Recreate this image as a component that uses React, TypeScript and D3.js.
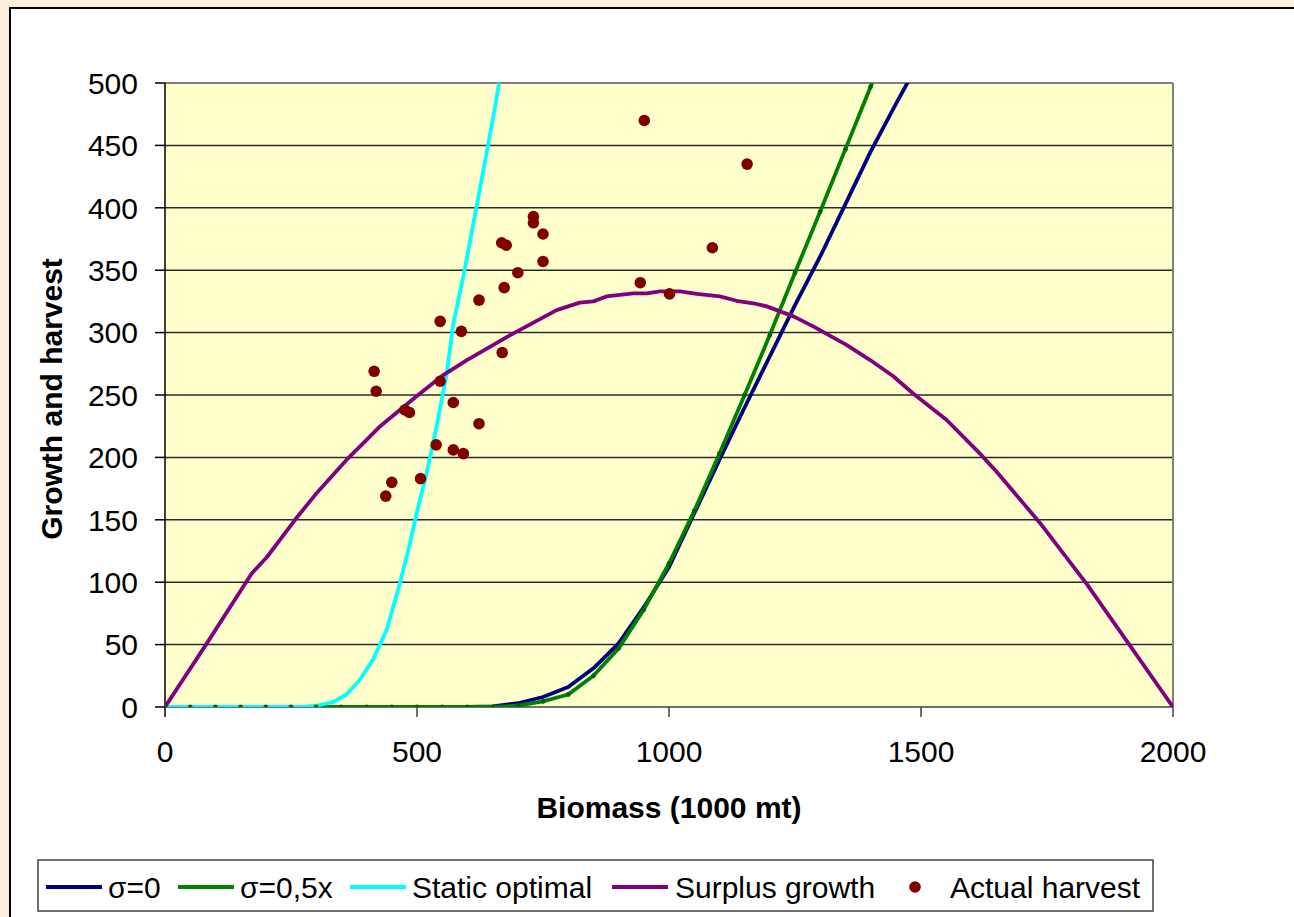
import React from 'react';
import * as d3 from 'd3';

// Biomass grid shared by the two model curves (1000 mt)
const gridX = [0, 50, 100, 150, 200, 250, 300, 350, 400, 450, 500, 550, 600, 650, 700, 750, 800, 850, 900, 950, 1000, 1050, 1100, 1150, 1200, 1250, 1300, 1350, 1400, 1450, 1500];
const sigma0 = [0, 0, 0, 0, 0, 0, 0, 0, 0, 0, 0, 0, 0, 0.5, 3, 8, 16, 31, 51, 80, 112, 155, 198, 240, 281, 322, 361, 403, 445, 483, 520];
const sigma05 = [0, 0, 0, 0, 0, 0, 0, 0, 0, 0, 0, 0, 0, 0, 1, 4.5, 10, 25, 47, 78, 115, 157, 203, 250, 298, 348, 397, 447, 497, 547, 597];

const staticX = [0, 50, 100, 150, 200, 250, 275, 300, 334, 360, 387, 413, 440, 466, 486, 499, 519, 539, 559, 572, 592, 628, 650, 663, 680];
const staticY = [0, 0, 0, 0, 0, 0, 0, 1, 4, 10, 22, 38, 62, 99, 131, 155, 187, 225, 267, 307, 345, 422, 470, 500, 540];

const surplusX = [0, 83, 172, 202, 258, 298, 360, 400, 427, 493, 552, 599, 685, 777, 823, 850, 876, 929, 956, 982, 1022, 1055, 1101, 1134, 1167, 1194, 1247, 1286, 1353, 1399, 1445, 1485, 1551, 1617, 1650, 1736, 1829, 1915, 2000];
const surplusY = [0, 51, 107, 120, 150, 170, 198, 214, 225, 247, 266, 278, 298, 318, 324, 325, 329, 331.5, 331.5, 333, 333, 331, 329, 325.5, 323.5, 321, 313, 305, 290, 278, 265, 251, 230, 203, 188.5, 147.5, 98.4, 49, 0];

const harvestX = [415, 419, 476, 485, 450, 438, 507, 538, 572, 592, 623, 572, 546, 546, 588, 669, 623, 673, 700, 668, 677, 731, 731, 750, 750, 943, 1001, 1086, 951, 1155];
const harvestY = [269, 253, 238, 236, 180, 169, 183, 210, 206, 203, 227, 244, 261, 309, 301, 284, 326, 336, 348, 372, 370, 393, 388, 379, 357, 340, 331, 368, 470, 435];

const xTicks = [0, 500, 1000, 1500, 2000];
const yTicks = [0, 50, 100, 150, 200, 250, 300, 350, 400, 450, 500];

const FONT = '"Liberation Sans", Arial, sans-serif';

const App = () => {
  const W = 1294;
  const H = 917;
  const plot = { left: 165, right: 1173, top: 83, bottom: 707 };

  const x = d3.scaleLinear().domain([0, 2000]).range([plot.left, plot.right]);
  const y = d3.scaleLinear().domain([0, 500]).range([plot.bottom, plot.top]);

  const line = d3.line<[number, number]>()
    .x(d => x(d[0]))
    .y(d => y(d[1]));

  const zip = (xs: number[], ys: number[]) => xs.map((v, i) => [v, ys[i]] as [number, number]);

  const navyPts = zip(gridX, sigma0);
  const greenPts = zip(gridX, sigma05);
  const cyanPts = zip(staticX, staticY);
  const purplePts = zip(surplusX, surplusY);
  const dots = zip(harvestX, harvestY);

  // legend layout
  const legY = 887;
  const legend = [
    { type: 'line', color: '#000080', x0: 46, x1: 102, tx: 108, label: 'σ=0' },
    { type: 'line', color: '#008000', x0: 178, x1: 234, tx: 240, label: 'σ=0,5x' },
    { type: 'line', color: '#00FFFF', x0: 350, x1: 406, tx: 412, label: 'Static optimal' },
    { type: 'line', color: '#800080', x0: 612, x1: 668, tx: 675, label: 'Surplus growth' },
    { type: 'dot', color: '#800000', x0: 915, x1: 915, tx: 950, label: 'Actual harvest' },
  ];

  return (
    <div style={{ position: 'absolute', left: 0, top: 0 }}>
      <svg width={W} height={H} style={{ display: 'block' }} fontFamily={FONT}>
        <defs>
          <clipPath id="plotClip">
            <rect x={plot.left} y={plot.top} width={plot.right - plot.left} height={plot.bottom - plot.top} />
          </clipPath>
        </defs>

        {/* page background + chart panel */}
        <rect x={0} y={0} width={W} height={H} fill="#FCF0DA" />
        <rect x={10} y={8} width={W + 20} height={H + 20} fill="#FFFFFF" stroke="#000" strokeWidth={2} />

        {/* plot area */}
        <rect x={plot.left} y={plot.top} width={plot.right - plot.left} height={plot.bottom - plot.top} fill="#FFFFCC" />

        {/* gridlines */}
        {yTicks.filter(t => t > 0 && t < 500).map(t => (
          <line key={'g' + t} x1={plot.left} x2={plot.right} y1={y(t)} y2={y(t)} stroke="#2a2a2a" strokeWidth={1.5} />
        ))}

        {/* plot border top/right */}
        <line x1={plot.left} x2={plot.right} y1={plot.top} y2={plot.top} stroke="#808080" strokeWidth={2} />
        <line x1={plot.right} x2={plot.right} y1={plot.top} y2={plot.bottom} stroke="#808080" strokeWidth={2} />

        {/* axes */}
        <line x1={plot.left} x2={plot.right} y1={plot.bottom} y2={plot.bottom} stroke="#404040" strokeWidth={1.5} />
        <line x1={plot.left} x2={plot.left} y1={plot.top} y2={plot.bottom + 10} stroke="#000" strokeWidth={1.5} />
        {yTicks.map(t => (
          <g key={'y' + t}>
            <line x1={plot.left - 10} x2={plot.left} y1={y(t)} y2={y(t)} stroke="#000" strokeWidth={1.5} />
            <text x={138} y={y(t)} dy="0.36em" textAnchor="end" fontSize={30} fill="#000">{t}</text>
          </g>
        ))}
        {xTicks.map(t => (
          <g key={'x' + t}>
            <line x1={x(t)} x2={x(t)} y1={plot.bottom} y2={plot.bottom + 10} stroke="#404040" strokeWidth={1.5} />
            <text x={x(t)} y={762} textAnchor="middle" fontSize={30} fill="#000">{t}</text>
          </g>
        ))}

        {/* series */}
        <g clipPath="url(#plotClip)" fill="none" strokeWidth={3.8} strokeLinejoin="round">
          <path d={line(navyPts) || ''} stroke="#000080" />
          <path d={line(greenPts) || ''} stroke="#008000" />
          <path d={line(cyanPts) || ''} stroke="#00FFFF" />
          <path d={line(purplePts) || ''} stroke="#800080" />
          {greenPts.map((d, i) => (
            <circle key={'m' + i} cx={x(d[0])} cy={y(d[1])} r={2.4} fill="#006400" stroke="none" />
          ))}
        </g>
        {dots.map((d, i) => (
          <circle key={'h' + i} cx={x(d[0])} cy={y(d[1])} r={5.8} fill="#800000" />
        ))}

        {/* axis titles */}
        <text x={(plot.left + plot.right) / 2} y={818} textAnchor="middle" fontSize={30} fontWeight="bold" fill="#000">Biomass (1000 mt)</text>
        <text transform={`translate(62, ${(plot.top + plot.bottom) / 2 + 4}) rotate(-90)`} textAnchor="middle" fontSize={30} fontWeight="bold" fill="#000">Growth and harvest</text>

        {/* legend */}
        <rect x={38} y={860} width={1115} height={51} fill="#FFFFFF" stroke="#404040" strokeWidth={1.5} />
        {legend.map(l => (
          <g key={l.label}>
            {l.type === 'line' ? (
              <line x1={l.x0} x2={l.x1} y1={legY} y2={legY} stroke={l.color} strokeWidth={4} />
            ) : (
              <circle cx={l.x0} cy={legY} r={5.8} fill={l.color} />
            )}
            <text x={l.tx} y={legY} dy="0.36em" fontSize={30} fill="#000">{l.label}</text>
          </g>
        ))}
      </svg>
    </div>
  );
};

export default App;
